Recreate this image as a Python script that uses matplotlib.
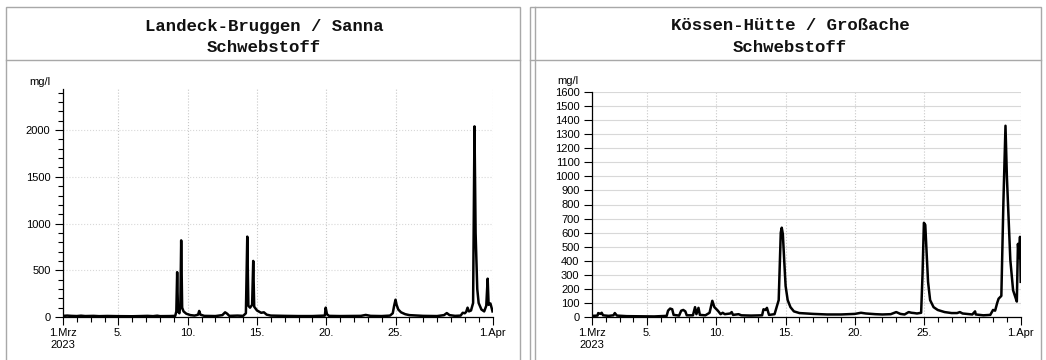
import matplotlib.pyplot as plt
import numpy as np
from matplotlib.patches import Rectangle
from matplotlib.lines import Line2D

# Zeit in Tagen ab 1. März 2023, 00:00
landeck_t = [0.0, 0.3, 0.6, 1.0, 1.3, 1.6, 2.2, 2.6, 3.2, 4.0, 5.0, 5.6, 6.1, 6.5, 6.8, 7.0,
             7.7, 8.1, 8.18, 8.24, 8.3, 8.4, 8.47, 8.53, 8.6, 8.7, 8.9, 9.2, 9.5, 9.75, 9.83,
             9.92, 10.2, 11.0, 11.5, 11.7, 11.85, 12.0, 12.6, 13.0, 13.2, 13.3, 13.38, 13.5,
             13.65, 13.73, 13.8, 14.0, 14.3, 14.5, 14.7, 15.0, 16.0, 17.0, 18.0, 18.9, 18.96,
             19.05, 19.2, 20.0, 21.5, 21.85, 22.2, 23.0, 23.6, 23.8, 23.9, 24.0, 24.08, 24.2,
             24.4, 24.7, 25.0, 26.0, 27.0, 27.5, 27.7, 27.9, 28.3, 28.7, 28.85, 29.0, 29.1,
             29.2, 29.3, 29.45, 29.6, 29.7, 29.78, 29.9, 30.0, 30.2, 30.4, 30.55, 30.65,
             30.72, 30.85, 30.95, 31.0]
landeck_v = [12, 15, 12, 10, 14, 10, 12, 9, 11, 9, 8, 10, 12, 9, 14, 9,
             10, 12, 60, 480, 60, 40, 120, 820, 100, 60, 35, 20, 15, 25, 65,
             25, 12, 10, 20, 50, 35, 12, 15, 12, 40, 860, 120, 100,
             130, 600, 110, 70, 45, 50, 25, 15, 12, 10, 10, 15, 100,
             30, 12, 10, 12, 22, 12, 10, 15, 40, 120, 185, 130, 80,
             50, 30, 20, 12, 10, 20, 42, 20, 12, 15, 45, 40, 55,
             100, 60, 70, 150, 2040, 900, 300, 150, 80, 60, 120, 410,
             130, 145, 90, 60]

koessen_t = [0.0, 0.4, 0.45, 0.6, 0.7, 0.8, 1.2, 1.55, 1.65, 1.8, 2.5, 3.5, 4.5, 5.4, 5.5,
             5.65, 5.8, 5.9, 6.3, 6.45, 6.6, 6.75, 6.85, 7.3, 7.45, 7.55, 7.7, 7.8, 8.2, 8.5,
             8.7, 8.85, 9.1, 9.3, 9.45, 9.6, 10.0, 10.1, 10.2, 10.6, 10.8, 11.5, 12.3, 12.4,
             12.55, 12.65, 12.8, 13.2, 13.5, 13.65, 13.72, 13.8, 13.9, 14.0, 14.15, 14.35,
             14.6, 15.0, 16.0, 17.0, 18.0, 18.5, 19.0, 19.45, 19.8, 20.5, 21.0, 21.6, 22.0,
             22.3, 22.6, 22.9, 23.1, 23.3, 23.5, 23.8, 23.9, 24.0, 24.1, 24.2, 24.3, 24.45,
             24.7, 25.0, 25.5, 26.0, 26.4, 26.6, 26.8, 27.5, 27.7, 27.75, 28.3, 28.8, 29.0,
             29.15, 29.3, 29.4, 29.6, 29.75, 29.9, 30.0, 30.1, 30.25, 30.45, 30.65, 30.72,
             30.8, 30.88, 30.95, 31.0]
koessen_v = [8, 10, 28, 22, 30, 12, 8, 12, 28, 10, 6, 5, 4, 8, 45,
             60, 55, 15, 10, 45, 50, 40, 12, 12, 70, 20, 65, 15, 12, 30,
             115, 70, 45, 20, 30, 20, 25, 35, 15, 20, 12, 10, 12, 55,
             50, 65, 15, 20, 120, 600, 635, 590, 400, 220, 120, 70,
             40, 28, 22, 18, 18, 20, 22, 30, 25, 20, 18, 20, 35,
             22, 18, 35, 30, 28, 25, 30, 300, 670, 655, 450, 250, 120,
             70, 50, 35, 28, 28, 35, 25, 18, 40, 18, 12, 15, 50,
             45, 100, 130, 150, 820, 1360, 1000, 760, 405, 190, 130, 110,
             520, 420, 570, 250]

tick_pos = [0, 4, 9, 14, 19, 24, 31]
tick_lab = ['1.Mrz\n2023', '5.', '10.', '15.', '20.', '25.', '1.Apr']

W, H = 1046, 360
fig = plt.figure(figsize=(W / 100, H / 100), dpi=100)

def fx(px):
    return px / W

def fy(py):
    return 1 - py / H

# Rahmen der beiden Kacheln
rand = '#a8a8a8'
for x0, x1 in [(6, 520), (530, 1041)]:
    fig.add_artist(Rectangle((fx(x0), fy(362)), fx(x1 - x0), (362 - 7) / H,
                             transform=fig.transFigure, fill=False, ec=rand, lw=1))
    fig.add_artist(Line2D([fx(x0), fx(x1)], [fy(60), fy(60)],
                          transform=fig.transFigure, color=rand, lw=1))
fig.add_artist(Line2D([fx(535), fx(535)], [fy(7), fy(362)],
                      transform=fig.transFigure, color=rand, lw=1))

titel = dict(family='Liberation Mono', fontweight='bold', fontsize=12.5,
             ha='center', va='center', color='#111111')
fig.text(fx(264), fy(26), 'Landeck-Bruggen / Sanna', **titel)
fig.text(fx(264), fy(47), 'Schwebstoff', **titel)
fig.text(fx(790), fy(26), 'Kössen-Hütte / Großache', **titel)
fig.text(fx(790), fy(47), 'Schwebstoff', **titel)

def achse(ax, t, v, ymax, yticks, ysize, minor=None, hgrid_ls=':'):
    ax.plot(t, v, color='black', lw=1.8, solid_joinstyle='round')
    ax.set_xlim(0, 31)
    ax.set_ylim(0, ymax)
    ax.set_xticks(tick_pos)
    ax.set_xticklabels(tick_lab, family='Liberation Sans', fontsize=8)
    ax.set_xticks(np.arange(0, 32), minor=True)
    ax.set_yticks(yticks)
    ax.set_yticklabels([str(y) for y in yticks], family='Liberation Sans', fontsize=ysize)
    if minor is not None:
        ax.set_yticks(minor, minor=True)
    ax.tick_params(axis='both', which='major', length=6, width=0.8, pad=2)
    ax.tick_params(axis='y', which='major', pad=3)
    ax.tick_params(axis='both', which='minor', length=3.5, width=0.8)
    for s in ['top', 'right']:
        ax.spines[s].set_visible(False)
    for s in ['left', 'bottom']:
        ax.spines[s].set_linewidth(0.9)
    ax.grid(axis='x', which='major', color='#c8c8c8', ls=':', lw=0.8)
    ax.grid(axis='y', which='major', color='#d8d8d8', ls=hgrid_ls, lw=0.8)
    ax.set_axisbelow(True)

ax1 = fig.add_axes([fx(63), fy(317), fx(492.5 - 63), (317 - 89) / H])
achse(ax1, landeck_t, landeck_v, 2440, [0, 500, 1000, 1500, 2000], 8,
      minor=np.arange(0, 2440, 100))
fig.text(fx(29), fy(82), 'mg/l', family='Liberation Sans', fontsize=8, va='center')

ax2 = fig.add_axes([fx(592), fy(317), fx(1020.7 - 592), (317 - 92) / H])
achse(ax2, koessen_t, koessen_v, 1600, list(range(0, 1601, 100)), 8, hgrid_ls='-')
fig.text(fx(557), fy(81), 'mg/l', family='Liberation Sans', fontsize=8, va='center')

fig.savefig('out.png', dpi=100)
